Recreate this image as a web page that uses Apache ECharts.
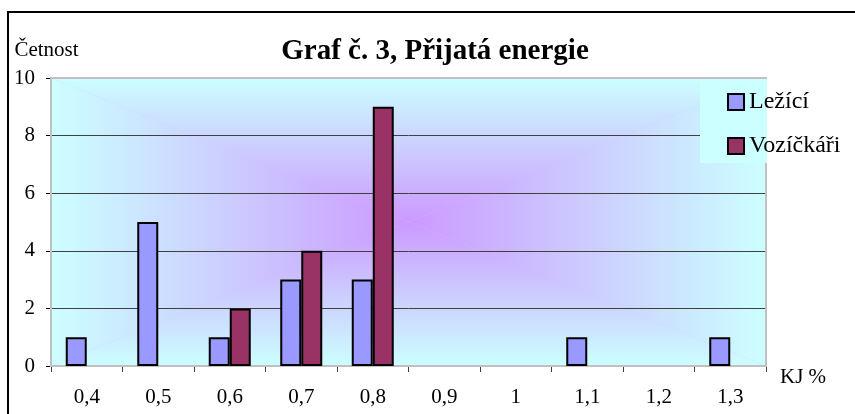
<!DOCTYPE html>
<html>
<head>
<meta charset="utf-8">
<script src="https://cdn.jsdelivr.net/npm/echarts@6/dist/echarts.min.js"></script>
<style>
  html, body { margin: 0; padding: 0; background: #fff; }
  #chart { width: 855px; height: 414px; }
</style>
</head>
<body>
<div id="chart"></div>
<script>
// hodnoty
const categories = ["0,4", "0,5", "0,6", "0,7", "0,8", "0,9", "1", "1,1", "1,2", "1,3"];
const lezici = [1, 5, 1, 3, 3, 0, 0, 1, 0, 1];
const vozickari = [0, 0, 2, 4, 9, 0, 0, 0, 0, 0];
const yTicks = { min: 0, max: 10, interval: 2 };

const W = 855, H = 414;
const L = 51, T = 78, R = 766, B = 366;
const cx = (L + R) / 2, cy = (T + B) / 2;
const edge = "#ccffff", mid = "#cc99ff";
const FONT = "Liberation Serif";

function grad(x, y, x2, y2) {
  return {
    type: "linear", x: x, y: y, x2: x2, y2: y2,
    colorStops: [{ offset: 0, color: edge }, { offset: 1, color: mid }]
  };
}

// nulové sloupce bez obrysu
function bars(values) {
  return values.map(v => v === 0 ? { value: 0, itemStyle: { borderWidth: 0 } } : v);
}

// obdélníkový přechod ze středu, složený ze čtyř trojúhelníků
const background = [
  { type: "rect", z: -12, shape: { x: L, y: T, width: R - L, height: B - T }, style: { fill: "#cccbff" } },
  { type: "polygon", z: -11, shape: { points: [[L, T], [R, T], [cx, cy]] }, style: { fill: grad(0, 0, 0, 1) } },
  { type: "polygon", z: -11, shape: { points: [[L, B], [R, B], [cx, cy]] }, style: { fill: grad(0, 1, 0, 0) } },
  { type: "polygon", z: -11, shape: { points: [[L, T], [L, B], [cx, cy]] }, style: { fill: grad(0, 0, 1, 0) } },
  { type: "polygon", z: -11, shape: { points: [[R, T], [R, B], [cx, cy]] }, style: { fill: grad(1, 0, 0, 0) } },
  // rámeček plochy grafu
  { type: "rect", z: 2, shape: { x: L, y: T, width: R - L, height: B - T }, style: { fill: null, stroke: "#c0c0c0", lineWidth: 2 } },
  // podklad legendy
  { type: "rect", z: 3, shape: { x: 700, y: T + 1, width: R - 700 + 1, height: 163 - T - 1 }, style: { fill: edge } },
  // vnější rámeček
  { type: "rect", z: 5, shape: { x: 8, y: 12, width: 900, height: 500 }, style: { fill: null, stroke: "#000", lineWidth: 2 } }
];

const chart = echarts.init(document.getElementById("chart"), null, { renderer: "canvas" });

chart.setOption({
  animation: false,
  backgroundColor: "#fff",
  textStyle: { fontFamily: FONT, color: "#000" },
  title: {
    text: "Graf č. 3, Přijatá energie",
    left: 430, top: 32,
    textAlign: "center",
    textStyle: { fontFamily: FONT, fontSize: 29, fontWeight: "bold", color: "#000" }
  },
  legend: {
    orient: "vertical",
    left: 727, top: 90,
    padding: 0,
    itemWidth: 16, itemHeight: 16,
    itemGap: 20,
    icon: "rect",
    itemStyle: { borderColor: "#000", borderWidth: 2 },
    textStyle: { fontFamily: FONT, fontSize: 24, color: "#000" },
    data: ["Ležící", "Vozíčkáři"]
  },
  grid: { left: L, top: T, right: W - R, bottom: H - B },
  xAxis: {
    type: "category",
    data: categories,
    name: "KJ %",
    nameLocation: "end",
    nameGap: 14,
    nameTextStyle: { fontFamily: FONT, fontSize: 21, color: "#000", verticalAlign: "top", padding: [1, 0, 0, 0] },
    axisLine: { lineStyle: { color: "#404040", width: 1 } },
    axisTick: { show: true, length: 6, inside: false, lineStyle: { color: "#404040" } },
    axisLabel: { fontFamily: FONT, fontSize: 21, color: "#000", margin: 21 },
    splitLine: { show: false }
  },
  yAxis: {
    type: "value",
    min: yTicks.min, max: yTicks.max, interval: yTicks.interval,
    name: "Četnost",
    nameLocation: "end",
    nameGap: 17,
    nameTextStyle: { fontFamily: FONT, fontSize: 21, color: "#000", padding: [0, 9, 0, 0] },
    axisLine: { show: true, lineStyle: { color: "#000", width: 1 } },
    axisTick: { show: true, length: 5, lineStyle: { color: "#000" } },
    axisLabel: { fontFamily: FONT, fontSize: 21, color: "#000", margin: 16 },
    splitLine: { show: true, lineStyle: { color: "#404040", width: 1 } }
  },
  series: [
    {
      name: "Ležící", type: "bar", data: bars(lezici),
      barWidth: 21, barGap: "0%",
      itemStyle: { color: "#9999ff", borderColor: "#000", borderWidth: 2 }
    },
    {
      name: "Vozíčkáři", type: "bar", data: bars(vozickari),
      barWidth: 21, barGap: "0%",
      itemStyle: { color: "#993366", borderColor: "#000", borderWidth: 2 }
    }
  ],
  graphic: { elements: background }
});
</script>
</body>
</html>
